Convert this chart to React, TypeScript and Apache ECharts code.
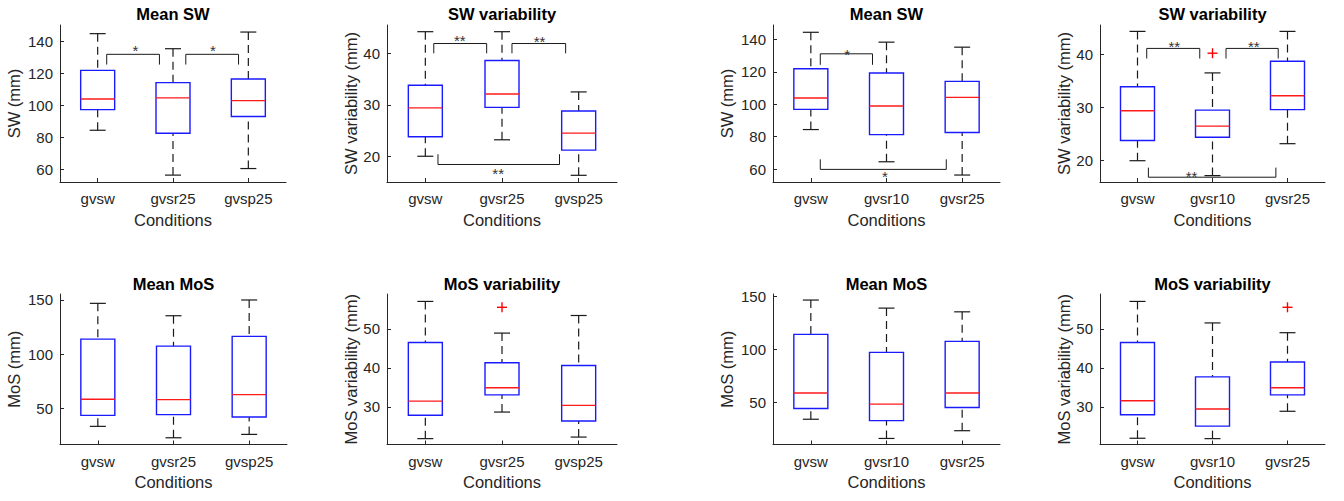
import React, { useEffect, useRef } from 'react';
import * as echarts from 'echarts';

const conditionsA = ['gvsw', 'gvsr25', 'gvsp25'];
const conditionsB = ['gvsw', 'gvsr10', 'gvsr25'];

// box stats per condition: [lower whisker, Q1, median, Q3, upper whisker]
const meanSW_A = [
  [84.3, 97.2, 103.8, 121.7, 144.6],
  [56.3, 82.4, 104.5, 114.0, 135.2],
  [60.4, 92.9, 102.8, 116.3, 145.6],
];
const swVar_A = [
  [20.0, 23.8, 29.4, 33.8, 44.2],
  [23.2, 29.5, 32.1, 38.6, 44.2],
  [16.3, 21.2, 24.5, 28.8, 32.5],
];
const meanSW_B = [
  [84.4, 96.9, 103.9, 122.0, 144.5],
  [64.5, 81.3, 99.0, 119.3, 138.4],
  [56.3, 82.6, 104.3, 114.2, 135.3],
];
const swVar_B = [
  [20.0, 23.8, 29.4, 33.9, 44.3],
  [17.2, 24.4, 26.5, 29.5, 36.5],
  [23.2, 29.6, 32.2, 38.7, 44.3],
];
const meanMoS_A = [
  [33.7, 43.8, 58.6, 114.0, 146.9],
  [23.2, 44.5, 58.3, 107.5, 135.5],
  [26.3, 42.3, 62.9, 116.5, 150.0],
];
const mosVar_A = [
  [21.9, 27.9, 31.5, 46.5, 57.0],
  [28.7, 33.1, 34.9, 41.3, 48.9],
  [22.3, 26.4, 30.4, 40.6, 53.4],
];
const meanMoS_B = [
  [34.2, 44.3, 58.9, 114.2, 146.5],
  [16.1, 32.9, 48.4, 97.2, 138.9],
  [23.4, 45.3, 58.9, 107.6, 135.4],
];
const mosVar_B = [
  [22.0, 28.0, 31.6, 46.5, 57.0],
  [21.9, 25.1, 29.5, 37.7, 51.5],
  [28.9, 33.1, 34.9, 41.5, 49.0],
];

// outliers: [condition position, value]
const swVar_B_outliers = [[2, 40.2]];
const mosVar_A_outliers = [[2, 55.5]];
const mosVar_B_outliers = [[3, 55.5]];

// significance brackets: [x from, x to, bar level, leg end level]
const meanSW_A_brackets = [[1.12, 1.82, 131.7, 125.3], [2.17, 2.87, 131.7, 125.3]];
const meanSW_A_stars = [[1.5, 136.3], [2.53, 136.3]];
const meanSW_A_starText = ['*', '*'];

const swVar_A_brackets = [[1.11, 1.8, 41.9, 40.0], [2.13, 2.83, 41.9, 40.0], [1.165, 2.75, 18.4, 20.4]];
const swVar_A_stars = [[1.45, 43.1], [2.49, 42.9], [1.95, 17.3]];
const swVar_A_starText = ['**', '**', '**'];

const meanSW_B_brackets = [[1.125, 1.815, 131.2, 124.4], [1.125, 2.79, 59.8, 66.0]];
const meanSW_B_stars = [[1.48, 133.2], [1.98, 57.3]];
const meanSW_B_starText = ['*', '*'];

const swVar_B_brackets = [[1.123, 1.83, 41.1, 39.2], [2.18, 2.876, 41.1, 39.2], [1.145, 2.845, 16.9, 18.7]];
const swVar_B_stars = [[1.49, 42.1], [2.55, 42.1], [1.72, 17.7]];
const swVar_B_starText = ['**', '**', '**'];

// axis ranges and ticks
const swRange = [52, 150];
const swTicks = [60, 80, 100, 120, 140];
const swRangeB = [52, 149];
const swVarRangeA = [15, 45.5];
const swVarRangeB = [16, 45.5];
const swVarTicks = [20, 30, 40];
const mosRangeA = [17, 155.5];
const mosRangeB = [10.4, 152.2];
const mosTicks = [50, 100, 150];
const mosVarRange = [20.4, 58.9];
const mosVarTicks = [30, 40, 50];

const FONT = '"Liberation Sans", Arial, Helvetica, sans-serif';
const AXIS_COLOR = '#262626';

type Panel = {
  title: string;
  yName: string;
  cats: string[];
  stats: number[][];
  outliers?: number[][];
  brackets?: number[][];
  stars?: number[][];
  starText?: string[];
  range: number[];
  ticks: number[];
  left: number;
  top: number;
  width: number;
  height: number;
  nameGap: number;
};

const ROW1_TOP = 25;
const ROW1_H = 157;
const ROW2_TOP = 294;
const ROW2_H = 150.5;

const panels: Panel[] = [
  { title: 'Mean SW', yName: 'SW (mm)', cats: conditionsA, stats: meanSW_A, brackets: meanSW_A_brackets, stars: meanSW_A_stars, starText: meanSW_A_starText, range: swRange, ticks: swTicks, left: 60, top: ROW1_TOP, width: 226, height: ROW1_H, nameGap: 38 },
  { title: 'SW variability', yName: 'SW variability (mm)', cats: conditionsA, stats: swVar_A, brackets: swVar_A_brackets, stars: swVar_A_stars, starText: swVar_A_starText, range: swVarRangeA, ticks: swVarTicks, left: 387, top: ROW1_TOP, width: 230, height: ROW1_H, nameGap: 28 },
  { title: 'Mean SW', yName: 'SW (mm)', cats: conditionsB, stats: meanSW_B, brackets: meanSW_B_brackets, stars: meanSW_B_stars, starText: meanSW_B_starText, range: swRangeB, ticks: swTicks, left: 773, top: ROW1_TOP, width: 227, height: ROW1_H, nameGap: 38 },
  { title: 'SW variability', yName: 'SW variability (mm)', cats: conditionsB, stats: swVar_B, outliers: swVar_B_outliers, brackets: swVar_B_brackets, stars: swVar_B_stars, starText: swVar_B_starText, range: swVarRangeB, ticks: swVarTicks, left: 1100, top: ROW1_TOP, width: 225, height: ROW1_H, nameGap: 27 },
  { title: 'Mean MoS', yName: 'MoS (mm)', cats: conditionsA, stats: meanMoS_A, range: mosRangeA, ticks: mosTicks, left: 60, top: ROW2_TOP, width: 227, height: ROW2_H, nameGap: 38 },
  { title: 'MoS variability', yName: 'MoS variability (mm)', cats: conditionsA, stats: mosVar_A, outliers: mosVar_A_outliers, range: mosVarRange, ticks: mosVarTicks, left: 387, top: ROW2_TOP, width: 230, height: ROW2_H, nameGap: 28 },
  { title: 'Mean MoS', yName: 'MoS (mm)', cats: conditionsB, stats: meanMoS_B, range: mosRangeB, ticks: mosTicks, left: 773, top: ROW2_TOP, width: 227, height: ROW2_H, nameGap: 38 },
  { title: 'MoS variability', yName: 'MoS variability (mm)', cats: conditionsB, stats: mosVar_B, outliers: mosVar_B_outliers, range: mosVarRange, ticks: mosVarTicks, left: 1100, top: ROW2_TOP, width: 225, height: ROW2_H, nameGap: 26 },
];

function buildOption() {
  const grid: any[] = [];
  const xAxis: any[] = [];
  const yAxis: any[] = [];
  const series: any[] = [];
  const graphic: any[] = [];

  panels.forEach((p, i) => {
    grid.push({ left: p.left, top: p.top, width: p.width, height: p.height, containLabel: false });
    const cats = p.cats;
    xAxis.push({
      type: 'value',
      gridIndex: i,
      min: 0.5,
      max: 3.5,
      name: 'Conditions',
      nameLocation: 'middle',
      nameGap: 29,
      nameTextStyle: { fontSize: 16.5, color: AXIS_COLOR, fontFamily: FONT },
      axisLine: { show: true, onZero: false, lineStyle: { color: AXIS_COLOR, width: 1 } },
      axisTick: { show: true, inside: true, length: 4, customValues: [1, 2, 3], lineStyle: { color: AXIS_COLOR } },
      axisLabel: {
        customValues: [1, 2, 3],
        formatter: (v: number) => cats[Math.round(v) - 1] ?? '',
        fontSize: 15,
        color: AXIS_COLOR,
        fontFamily: FONT,
        margin: 9,
      },
      splitLine: { show: false },
    });
    yAxis.push({
      type: 'value',
      gridIndex: i,
      min: p.range[0],
      max: p.range[1],
      name: p.yName,
      nameLocation: 'middle',
      nameGap: p.nameGap,
      nameTextStyle: { fontSize: 16.5, color: AXIS_COLOR, fontFamily: FONT },
      axisLine: { show: true, lineStyle: { color: AXIS_COLOR, width: 1 } },
      axisTick: { show: true, inside: true, length: 4, customValues: p.ticks, lineStyle: { color: AXIS_COLOR } },
      axisLabel: {
        customValues: p.ticks,
        fontSize: 15,
        color: AXIS_COLOR,
        fontFamily: FONT,
        margin: 7,
      },
      splitLine: { show: false },
    });

    series.push({
      type: 'custom',
      xAxisIndex: i,
      yAxisIndex: i,
      data: p.stats.map((s, k) => [k + 1, ...s]),
      encode: { x: 0, y: [1, 2, 3, 4, 5] },
      renderItem: (_params: any, api: any) => {
        const x = api.value(0);
        const lo = api.coord([x, api.value(1)]);
        const q1 = api.coord([x, api.value(2)]);
        const med = api.coord([x, api.value(3)]);
        const q3 = api.coord([x, api.value(4)]);
        const hi = api.coord([x, api.value(5)]);
        const cx = lo[0];
        const bw = 17;
        const cw = 8;
        const dash = { stroke: '#1a1a1a', lineWidth: 1.2, lineDash: [8, 5] };
        const solid = { stroke: '#1a1a1a', lineWidth: 1.2 };
        return {
          type: 'group',
          children: [
            { type: 'line', shape: { x1: cx, y1: hi[1], x2: cx, y2: q3[1] }, style: dash },
            { type: 'line', shape: { x1: cx, y1: lo[1], x2: cx, y2: q1[1] }, style: dash },
            { type: 'line', shape: { x1: cx - cw, y1: hi[1], x2: cx + cw, y2: hi[1] }, style: solid },
            { type: 'line', shape: { x1: cx - cw, y1: lo[1], x2: cx + cw, y2: lo[1] }, style: solid },
            { type: 'rect', shape: { x: cx - bw, y: q3[1], width: 2 * bw, height: q1[1] - q3[1] }, style: { fill: 'none', stroke: '#1a1aff', lineWidth: 1.4 } },
            { type: 'line', shape: { x1: cx - bw, y1: med[1], x2: cx + bw, y2: med[1] }, style: { stroke: '#ff1a1a', lineWidth: 1.4 } },
          ],
        };
      },
    });

    if (p.outliers) {
      series.push({
        type: 'custom',
        xAxisIndex: i,
        yAxisIndex: i,
        data: p.outliers,
        renderItem: (_params: any, api: any) => {
          const c = api.coord([api.value(0), api.value(1)]);
          const s = 5;
          const st = { stroke: '#ff0000', lineWidth: 1.4 };
          return {
            type: 'group',
            children: [
              { type: 'line', shape: { x1: c[0] - s, y1: c[1], x2: c[0] + s, y2: c[1] }, style: st },
              { type: 'line', shape: { x1: c[0], y1: c[1] - s, x2: c[0], y2: c[1] + s }, style: st },
            ],
          };
        },
      });
    }

    if (p.brackets) {
      series.push({
        type: 'custom',
        xAxisIndex: i,
        yAxisIndex: i,
        data: p.brackets,
        encode: { x: [0, 1], y: [2, 3] },
        renderItem: (_params: any, api: any) => {
          const x1 = api.value(0);
          const x2 = api.value(1);
          const yb = api.value(2);
          const yl = api.value(3);
          return {
            type: 'polyline',
            shape: { points: [api.coord([x1, yl]), api.coord([x1, yb]), api.coord([x2, yb]), api.coord([x2, yl])] },
            style: { stroke: '#1a1a1a', lineWidth: 1, fill: 'none' },
          };
        },
      });
    }
    if (p.stars) {
      const texts = p.starText || [];
      series.push({
        type: 'custom',
        xAxisIndex: i,
        yAxisIndex: i,
        data: p.stars,
        renderItem: (params: any, api: any) => {
          const c = api.coord([api.value(0), api.value(1)]);
          return {
            type: 'text',
            x: c[0],
            y: c[1] + 3.5,
            style: { text: texts[params.dataIndex], align: 'center', verticalAlign: 'middle', fontSize: 15, fontFamily: FONT, fill: '#333' },
          };
        },
      });
    }

    graphic.push({
      type: 'text',
      x: p.left + p.width / 2,
      y: i < 4 ? 13.5 : 283.5,
      style: { text: p.title, align: 'center', verticalAlign: 'middle', fontSize: 16.5, fontWeight: 'bold', fontFamily: FONT, fill: '#000' },
    });
  });

  return { animation: false, backgroundColor: '#ffffff', grid, xAxis, yAxis, series, graphic };
}

export default function App() {
  const ref = useRef<HTMLDivElement>(null);
  useEffect(() => {
    if (!ref.current) return;
    const chart = echarts.init(ref.current, undefined, { renderer: 'svg' });
    chart.setOption(buildOption() as any);
    return () => chart.dispose();
  }, []);
  return <div ref={ref} style={{ position: 'absolute', left: 0, top: 0, width: 1344, height: 501 }} />;
}
